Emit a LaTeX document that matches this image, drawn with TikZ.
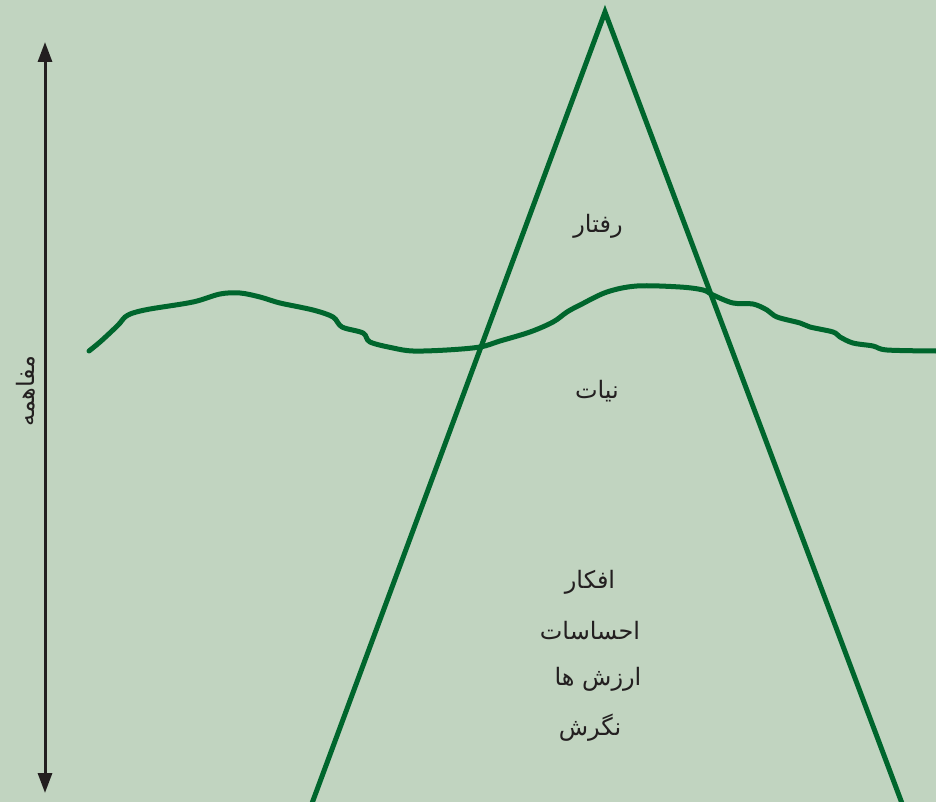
\documentclass[tikz,border=0pt]{standalone}
\usepackage{fontspec}
\usetikzlibrary{arrows.meta}
\TeXXeTstate=1
\newfontfamily\arabicfont[Script=Arabic]{DejaVu Sans}
\definecolor{bgc}{RGB}{193,212,192}
\definecolor{grn}{RGB}{0,102,45}
\definecolor{ink}{RGB}{35,31,32}
\tikzset{
  greenline/.style={draw=grn,line width=5pt,line cap=round,line join=round},
  label/.style={font=\arabicfont\fontsize{24}{28}\selectfont,text=ink,inner sep=0pt},
  axisarrow/.style={draw=ink,line width=3pt,{Triangle[length=20pt,width=14pt]}-{Triangle[length=20pt,width=14pt]}}
}
\begin{document}
\begin{tikzpicture}[x=1pt,y=-1pt]
\fill[bgc] (0,0) rectangle (936,802);
\useasboundingbox (0,0) rectangle (936,802);
% axis arrow
\coordinate (atop) at (45,42);
\coordinate (abot) at (45,793);
\draw[axisarrow] (atop) -- (abot);
\node[label,rotate=90] (mafahem) at (26,391) {\beginR مفاهمه\endR};
% triangle
\coordinate (apex) at (605,12);
\coordinate (bl) at (311,806);
\coordinate (br) at (903,806);
\draw[greenline,line join=miter,line cap=butt] (bl) -- (apex) -- (br);
% wavy line
\draw[greenline] plot[smooth,tension=0.55] coordinates {
(89,351) (100,342) (113,330) (120,323) (125,317) (133,313) (150,309)
(193,302) (220,294) (240,293) (260,297) (280,303) (313,310) (333,317)
(342,327) (363,333) (370,342) (393,348) (413,351) (447,350) (480,347)
(500,341) (530,332) (553,322) (567,312) (580,305) (607,292) (637,286)
(680,287) (703,290) (713,295) (733,303) (753,304) (767,310) (777,317)
(800,323) (810,327) (833,332) (840,337) (853,343) (873,346) (887,350)
(936,351)};
% labels
\node[label] (raftar) at (598,226) {\beginR رفتار\endR};
\node[label] (niyat) at (597,391) {\beginR نیات\endR};
\node[label] (afkar) at (590,582) {\beginR افکار\endR};
\node[label] (ehsasat) at (590,631) {\beginR احساسات\endR};
\node[label] (arzesh) at (598,679) {\beginR ارزش ها\endR};
\node[label] (negaresh) at (590,728) {\beginR نگرش\endR};
\end{tikzpicture}
\end{document}
